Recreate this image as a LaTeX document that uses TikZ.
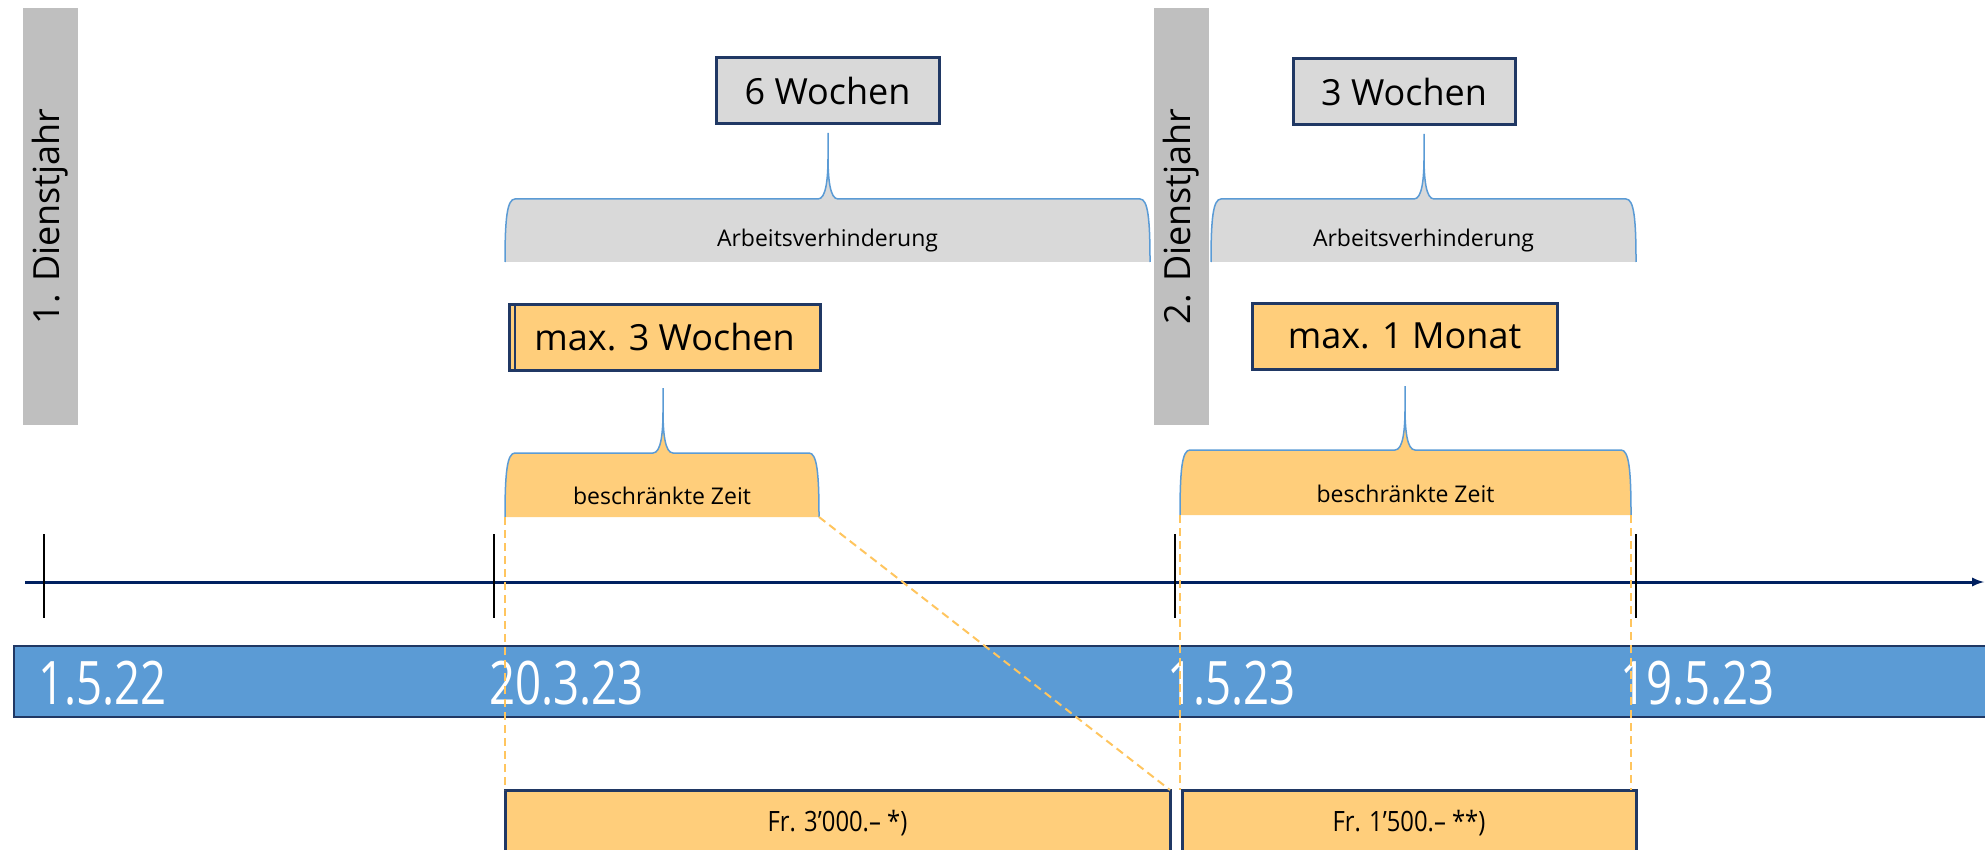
\documentclass[tikz,border=0pt]{standalone}
\usepackage{fontspec}
\setmainfont{Open Sans}
\newfontfamily\datefont[FakeStretch=0.76]{Open Sans}
\newfontfamily\narrowfont[FakeStretch=0.85]{Open Sans}
\definecolor{navy}{HTML}{203864}
\definecolor{axisnavy}{HTML}{002060}
\definecolor{boxgray}{HTML}{D9D9D9}
\definecolor{bargray}{HTML}{BFBFBF}
\definecolor{fillgold}{HTML}{FFCE7B}
\definecolor{dashgold}{HTML}{FFC55E}
\definecolor{lineblue}{HTML}{5B9BD5}
\definecolor{dateblue}{HTML}{5B9BD5}
\newcommand{\bracegen}[9]{
  \fill[#8] (#2,#7) .. controls (#2,#6+20) and (#2+2,#6) .. (#2+10,#6)
    -- (#3-10,#6) .. controls (#3-2,#6) and (#3,#6-20) .. (#3,#6-42) -- (#3,#5)
    -- (#3,#6-42) .. controls (#3,#6-20) and (#3+2,#6) .. (#3+10,#6)
    -- (#4-10,#6) .. controls (#4-2,#6) and (#4,#6+20) .. (#4,#7) -- cycle;
  \draw[lineblue,line width=1.5pt] (#2,#7) .. controls (#2,#6+20) and (#2+2,#6) .. (#2+10,#6)
    -- (#3-10,#6) .. controls (#3-2,#6) and (#3,#6-20) .. (#3,#6-42) -- (#3,#5)
    -- (#3,#6-42) .. controls (#3,#6-20) and (#3+2,#6) .. (#3+10,#6)
    -- (#4-10,#6) .. controls (#4-2,#6) and (#4,#6+20) .. (#4,#7);
  \coordinate (#1-sw) at (#2,#7);
  \coordinate (#1-se) at (#4,#7);
  \node[font=\fontsize{23}{28}\selectfont] (#1-label) at ({(#2+#4)/2},#7-21) {#9};
}
\begin{document}
\begin{tikzpicture}[
  x=1pt,y=-1pt,
  every node/.style={inner sep=0pt,outer sep=0pt},
  yearbar/.style={fill=bargray,rotate=90,minimum width=416pt,minimum height=55pt,font=\fontsize{36}{40}\selectfont},
  tagbox/.style={draw=navy,line width=3pt,minimum height=66pt,font=\fontsize{36}{40}\selectfont},
  paybox/.style={draw=navy,line width=3pt,fill=fillgold,minimum height=66pt,font=\narrowfont\fontsize{28}{32}\selectfont},
  datelabel/.style={anchor=west,text=white,font=\datefont\fontsize{60}{70}\selectfont},
  tickmark/.style={line width=2.5pt},
  dashline/.style={draw=dashgold,line width=2pt,dash pattern=on 8pt off 5pt},
  ]
  \useasboundingbox (0,0) rectangle (1985,850);
  \clip (0,0) rectangle (1985,850);
  \node[yearbar] (year1) at (50.5,216.5) {1. Dienstjahr};
  \node[yearbar] (year2) at (1181,216.5) {2. Dienstjahr};
  \bracegen{absent1}{505}{828}{1150}{133}{199}{262}{boxgray}{Arbeitsverhinderung}
  \bracegen{absent2}{1211}{1424}{1636}{134}{199}{262}{boxgray}{Arbeitsverhinderung}
  \bracegen{limit1}{505}{663}{819}{388}{453}{517}{fillgold}{beschränkte Zeit}
  \bracegen{limit2}{1180}{1405}{1631}{386}{450}{515}{fillgold}{beschränkte Zeit}
  \node[tagbox,fill=boxgray,minimum width=223pt] (weeks6) at (827.5,91) {6 Wochen};
  \node[tagbox,fill=boxgray,minimum width=222pt] (weeks3) at (1404,92) {3 Wochen};
  \node[tagbox,fill=fillgold,minimum width=311pt] (max3) at (664.5,337) {max. 3 Wochen};
  \draw[navy,line width=1.5pt] ([xshift=6pt]max3.north west) -- ([xshift=6pt]max3.south west);
  \node[tagbox,fill=fillgold,minimum width=305pt] (max1) at (1404.5,336) {max. 1 Monat};
  \coordinate (axisstart) at (25,582);
  \coordinate (axisend) at (1984,582);
  \draw[axisnavy,line width=3pt,->,>=latex] (axisstart) -- (axisend);
  \foreach \x in {44,494,1175,1636}
    \draw[tickmark] (\x,534) -- (\x,618);
  \node[fill=dateblue,draw=navy,line width=2.5pt,minimum width=2000pt,minimum height=71pt,anchor=west] (datebar) at (14,681.5) {};
  \foreach \x/\dt in {38/1.5.22,489/20.3.23,1167/1.5.23,1620/19.5.23}
    \node[datelabel] (date-\x) at (\x,683) {\dt};
  \node[paybox,minimum width=665pt] (pay1) at (837.5,823) {Fr. 3’000.– *)};
  \node[paybox,minimum width=454pt] (pay2) at (1409,823) {Fr. 1’500.– **)};
  \draw[dashline] (limit1-sw) -- (limit1-sw |- pay1.north);
  \draw[dashline] (limit1-se) -- (pay1.north east);
  \draw[dashline] (limit2-sw) -- (limit2-sw |- pay2.north);
  \draw[dashline] (limit2-se) -- (limit2-se |- pay2.north);
\end{tikzpicture}
\end{document}
